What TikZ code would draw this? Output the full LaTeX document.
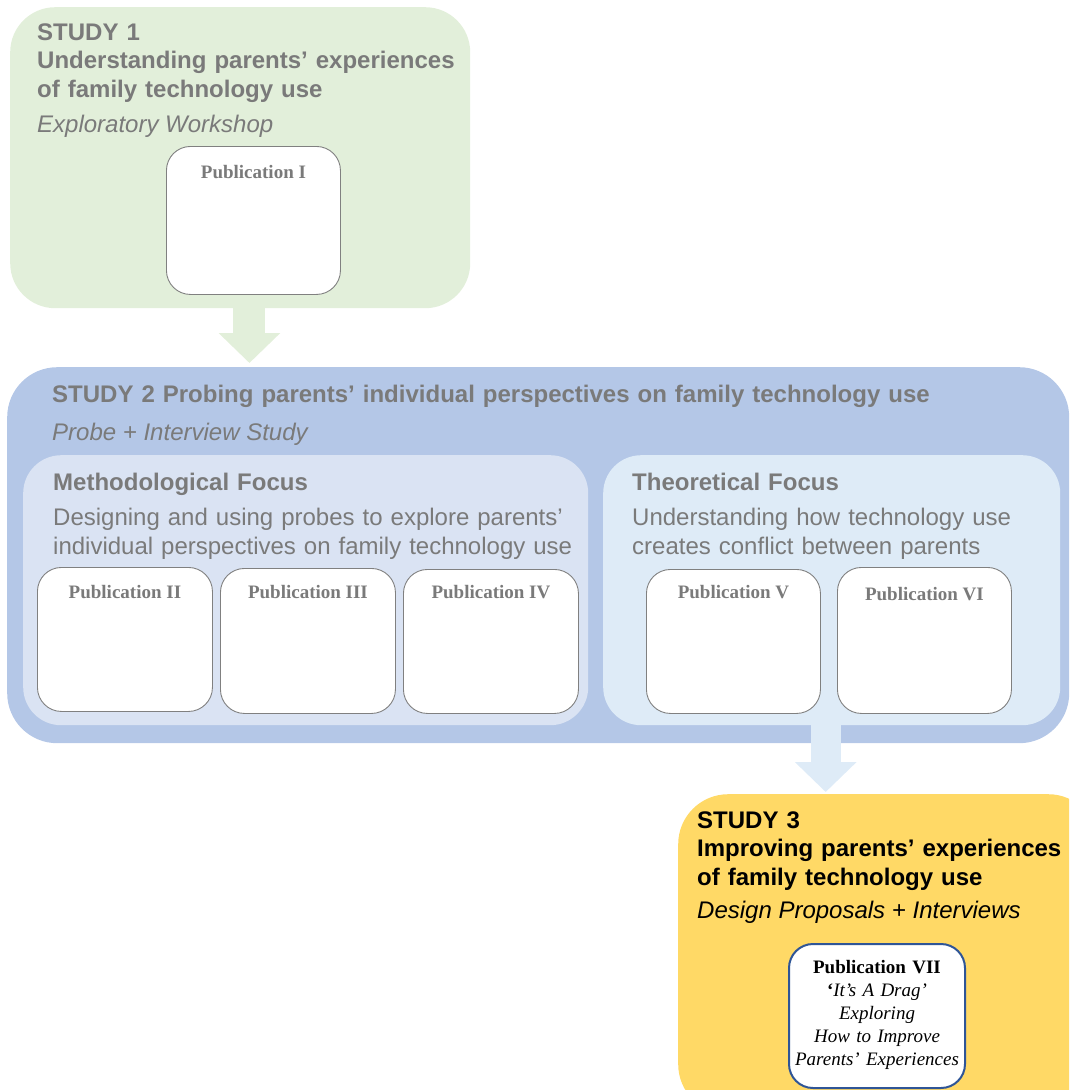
\documentclass[tikz,border=0pt]{standalone}
\usepackage{fontspec}
\setmainfont{Liberation Sans}
\newfontfamily\pubfont{Liberation Serif}
\usetikzlibrary{arrows.meta}

\definecolor{studyA}{HTML}{E2EFDA}
\definecolor{studyB}{HTML}{B4C7E7}
\definecolor{methB}{HTML}{DAE3F3}
\definecolor{theoB}{HTML}{DEEBF7}
\definecolor{studyC}{HTML}{FFD966}
\definecolor{txtgray}{HTML}{7A7A7A}
\definecolor{pubedge}{HTML}{808080}
\definecolor{pubblue}{HTML}{2F5597}

\begin{document}
\begin{tikzpicture}[x=1pt,y=-1pt,
  panel/.style={rounded corners=#1, inner sep=0pt, anchor=north west},
  pub/.style={draw=pubedge, fill=white, line width=0.9pt, rounded corners=24pt,
              inner sep=0pt, anchor=north west},
  head/.style={font=\fontsize{24}{28.5}\selectfont\bfseries, text=txtgray,
               inner sep=0pt, anchor=base west, text width=900pt, align=left},
  body/.style={font=\fontsize{24}{29}\selectfont, text=txtgray,
               inner sep=0pt, anchor=base west, text width=540pt, align=left},
  sub/.style={font=\fontsize{24}{28.5}\selectfont\itshape, text=txtgray,
              inner sep=0pt, anchor=base west},
  publbl/.style={font=\pubfont\fontsize{19}{23}\selectfont\bfseries, text=txtgray,
                 inner sep=0pt, anchor=base},
  flow/.style={line width=#1, -{Triangle[length=30pt, width=60pt]}},
]
\useasboundingbox (0,0) rectangle (1069,1090);
\clip (0,0) rectangle (1069,1090);

% ---------- Study 1 ----------
\node[panel=45pt, fill=studyA, minimum width=460pt, minimum height=301pt] (s1) at (10,7) {};
\node[head] (s1t) at (37,40) {STUDY 1\\Understanding parents’ experiences\\of family technology use};
\node[sub] (s1m) at (37,132) {Exploratory Workshop};
\node[pub, minimum width=174pt, minimum height=148pt] (p1) at (166,146) {};
\node[publbl] (p1t) at ([yshift=-32pt]p1.north) {Publication I};

% ---------- Study 2 ----------
\node[panel=50pt, fill=studyB, minimum width=1062pt, minimum height=376pt] (s2) at (7,367) {};
\node[head] (s2t) at (52,402) {STUDY 2 Probing parents’ individual perspectives on family technology use};
\node[sub] (s2m) at (52,440) {Probe + Interview Study};

\node[panel=38pt, fill=methB, minimum width=565pt, minimum height=270pt] (meth) at (23,455) {};
\node[head] (metht) at (53,490) {Methodological Focus};
\node[body] (methb) at (53,525) {Designing and using probes to explore parents’\\individual perspectives on family technology use};

\node[panel=38pt, fill=theoB, minimum width=457pt, minimum height=270pt] (theo) at (603,455) {};
\node[head] (theot) at (632,490) {Theoretical Focus};
\node[body] (theob) at (632,525) {Understanding how technology use\\creates conflict between parents};

\node[pub, minimum width=175pt, minimum height=144pt] (p2) at (37,567) {};
\node[pub, minimum width=175pt, minimum height=145pt] (p3) at (220,568) {};
\node[pub, minimum width=175pt, minimum height=144pt] (p4) at (403,569) {};
\node[pub, minimum width=174pt, minimum height=144pt] (p5) at (646,569) {};
\node[pub, minimum width=174pt, minimum height=146pt] (p6) at (837,567) {};
\node[publbl] (p2t) at ([yshift=-31pt]p2.north) {Publication II};
\node[publbl] (p3t) at ([yshift=-30pt]p3.north) {Publication III};
\node[publbl] (p4t) at ([yshift=-29pt]p4.north) {Publication IV};
\node[publbl] (p5t) at ([yshift=-29pt]p5.north) {Publication V};
\node[publbl] (p6t) at ([yshift=-33pt]p6.north) {Publication VI};

% ---------- Study 3 ----------
\node[panel=50pt, fill=studyC, minimum width=420pt, minimum height=320pt] (s3) at (678,794) {};
\node[head, text=black] (s3t) at (697,828) {STUDY 3\\Improving parents’ experiences\\of family technology use};
\node[sub, text=black] (s3m) at (697,918) {Design Proposals + Interviews};
\node[pub, draw=pubblue, line width=2pt, minimum width=176pt, minimum height=144pt] (p7) at (788,943) {};
\node[publbl, text=black, text width=176pt, align=center] (p7t) at ([yshift=-30pt]p7.north)
  {Publication VII\\[0pt]
   {\mdseries\itshape{\upshape\bfseries ‘}It’s A Drag’\\Exploring\\How to Improve\\Parents’ Experiences}};

% ---------- flow between studies ----------
\draw[flow=32pt, draw=studyA, shorten >=4pt]
  ([xshift=-4pt]p1.south |- s1.south) -- ([xshift=-4pt]p1.south |- s2.north);
\draw[flow=30pt, draw=theoB, shorten >=2pt]
  ([xshift=-6pt]theo.south) -- ([xshift=-6pt]theo.south |- s3.north);
\end{tikzpicture}
\end{document}
